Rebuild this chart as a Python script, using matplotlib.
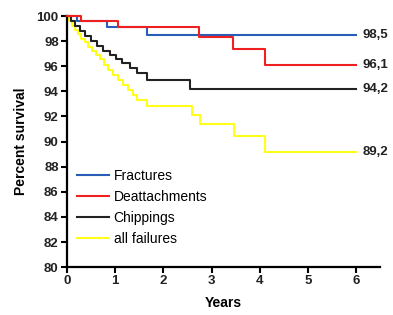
import matplotlib
matplotlib.use("Agg")
import matplotlib.pyplot as plt

plt.rcParams['font.family'] = ['Liberation Sans', 'DejaVu Sans']

# Kaplan-Meier step data (years, percent survival)
fract_t = [0, 0.2, 0.83, 1.67, 6.0]
fract_v = [100, 99.6, 99.1, 98.5, 98.5]

deatt_t = [0, 0.3, 1.06, 2.73, 3.44, 4.1, 6.0]
deatt_v = [100, 99.6, 99.1, 98.3, 97.4, 96.1, 96.1]

chip_t = [0, 0.08, 0.17, 0.27, 0.38, 0.5, 0.62, 0.75, 0.9, 1.02, 1.15, 1.3, 1.45, 1.67, 2.56, 6.0]
chip_v = [100, 99.6, 99.2, 98.8, 98.4, 98.0, 97.6, 97.2, 96.9, 96.6, 96.3, 95.9, 95.5, 94.9, 94.2, 94.2]

all_t = [0, 0.05, 0.1, 0.17, 0.23, 0.3, 0.37, 0.44, 0.52, 0.6, 0.69, 0.77, 0.85, 0.95, 1.06,
         1.17, 1.27, 1.36, 1.45, 1.67, 2.6, 2.75, 3.46, 4.1, 6.0]
all_v = [100, 99.6, 99.2, 98.9, 98.6, 98.2, 97.9, 97.5, 97.2, 96.9, 96.6, 96.1, 95.7, 95.3, 94.9,
         94.5, 94.1, 93.7, 93.3, 92.8, 92.1, 91.4, 90.45, 89.2, 89.2]

end_labels = ["98,5", "96,1", "94,2", "89,2"]
end_values = [98.5, 96.1, 94.2, 89.2]

fig = plt.figure(figsize=(3.93, 3.15), dpi=100)
ax = fig.add_axes([0.1705, 0.152, 0.797, 0.797])

l1, = ax.step(fract_t, fract_v, where='post', color='#2a5db8', lw=1.5, clip_on=False, zorder=4)
l2, = ax.step(deatt_t, deatt_v, where='post', color='#f02020', lw=1.5, clip_on=False, zorder=5)
l3, = ax.step(chip_t, chip_v, where='post', color='#222222', lw=1.5, clip_on=False, zorder=3)
l4, = ax.step(all_t, all_v, where='post', color='#ffff1a', lw=1.5, clip_on=False, zorder=2)

for lab, v in zip(end_labels, end_values):
    ax.text(6.13, v, lab, ha='left', va='center', fontsize=9.5, fontweight='bold', color='#222222')

ax.set_xlim(0, 6.5)
ax.set_ylim(80, 100)
ax.set_xticks(range(0, 7))
ax.set_yticks(range(80, 101, 2))

for s in ['top', 'right']:
    ax.spines[s].set_visible(False)
for s in ['left', 'bottom']:
    ax.spines[s].set_linewidth(1.6)
ax.tick_params(direction='out', length=4, width=1.5, labelsize=9.5, pad=2)
for t in ax.get_xticklabels() + ax.get_yticklabels():
    t.set_fontweight('bold')
    t.set_color('#222222')

ax.set_xlabel("Years", fontsize=10, fontweight='bold', labelpad=6)
ax.set_ylabel("Percent survival", fontsize=10, fontweight='bold', labelpad=6)

ax.legend([l1, l2, l3, l4], ["Fractures", "Deattachments", "Chippings", "all failures"],
          loc='lower left', bbox_to_anchor=(0.0, 0.045), frameon=False, fontsize=10,
          handlelength=2.3, handletextpad=0.35, labelspacing=0.5, borderaxespad=0.3)

fig.savefig("out.png", dpi=100)
